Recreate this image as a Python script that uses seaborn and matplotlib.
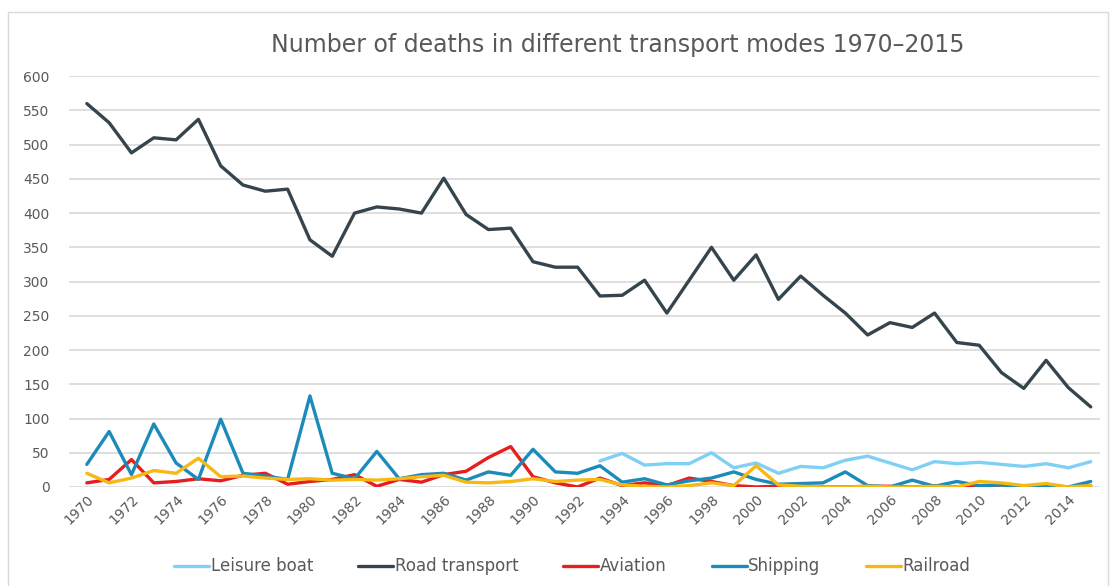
import matplotlib
matplotlib.use("Agg")
import matplotlib.pyplot as plt
import seaborn as sns
import pandas as pd
from matplotlib.patches import Rectangle

years = list(range(1970, 2016))

road_transport = [560, 532, 488, 510, 507, 537, 469, 441, 432, 435,
                  361, 337, 400, 409, 406, 400, 451, 398, 376, 378,
                  329, 321, 321, 279, 280, 302, 254, 302, 350, 302,
                  339, 274, 308, 280, 254, 222, 240, 233, 254, 211,
                  207, 167, 144, 185, 145, 117]

shipping = [33, 81, 18, 92, 35, 11, 99, 20, 16, 11,
            133, 20, 12, 52, 12, 18, 20, 10, 22, 17,
            55, 22, 20, 31, 7, 12, 3, 9, 13, 22,
            11, 4, 5, 6, 22, 2, 0, 10, 1, 8,
            2, 3, 0, 0, 0, 8]

aviation = [6, 11, 40, 6, 8, 12, 9, 17, 20, 4,
            8, 11, 18, 1, 11, 7, 18, 23, 43, 59,
            15, 6, 0, 13, 2, 6, 2, 13, 8, 2,
            0, 1, 0, 0, 0, 1, 1, 0, 2, 0,
            0, 3, 1, 2, 0, 2]

railroad = [20, 6, 13, 24, 20, 42, 15, 16, 13, 11,
            12, 10, 11, 10, 12, 15, 17, 7, 6, 8,
            12, 8, 10, 11, 3, 1, 0, 2, 6, 2,
            31, 3, 1, 0, 0, 1, 0, 0, 1, 0,
            8, 6, 2, 5, 0, 2]

leisure_years = list(range(1993, 2016))
leisure_boat = [38, 49, 32, 34, 34, 50, 28, 35, 20, 30,
                28, 39, 45, 35, 25, 37, 34, 36, 33, 30,
                34, 28, 37]

series_names = ["Leisure boat", "Road transport", "Aviation", "Shipping", "Railroad"]
colors = ["#7fd0f4", "#36444d", "#e61e1e", "#1b8cba", "#f7b813"]

frames = [pd.DataFrame({"Year": leisure_years, "Deaths": leisure_boat, "Mode": "Leisure boat"})]
for name, vals in [("Road transport", road_transport), ("Aviation", aviation),
                   ("Shipping", shipping), ("Railroad", railroad)]:
    frames.append(pd.DataFrame({"Year": years, "Deaths": vals, "Mode": name}))
df = pd.concat(frames, ignore_index=True)

sns.set_theme(style="white")
plt.rcParams["font.family"] = ["DejaVu Sans"]

fig = plt.figure(figsize=(11.13, 5.86), dpi=100)
fig.patches.append(Rectangle((8 / 1113, -0.05), 1100 / 1113, 1 - 12 / 586 + 0.05,
                             transform=fig.transFigure, fill=False,
                             edgecolor="#d9d9d9", linewidth=1.0))
ax = fig.add_axes([0.062, 0.169, 0.926, 0.701])

sns.lineplot(data=df, x="Year", y="Deaths", hue="Mode", hue_order=series_names,
             palette=dict(zip(series_names, colors)), linewidth=2.4, ax=ax,
             legend=True)

ax.set_ylim(0, 600)
ax.set_xlim(1969.2, 2015.4)
ax.set_yticks(range(0, 601, 50))
ax.set_xticks(list(range(1970, 2015, 2)))
ax.tick_params(axis="y", labelsize=10, labelcolor="#595959", length=0, pad=14)
ax.tick_params(axis="x", labelsize=10, labelcolor="#595959", length=0, pad=4)
for lab in ax.get_xticklabels():
    lab.set_rotation(45)
    lab.set_ha("right")
    lab.set_rotation_mode("anchor")
ax.grid(axis="y", color="#d9d9d9", linewidth=1.2)
ax.set_axisbelow(True)
for s in ax.spines.values():
    s.set_visible(False)
ax.set_xlabel("")
ax.set_ylabel("")

handles, labels = ax.get_legend_handles_labels()
ax.legend(handles, labels, loc="upper center", bbox_to_anchor=(0.488, -0.135),
          ncol=5, frameon=False, fontsize=12, handlelength=2.1, handletextpad=0.1,
          columnspacing=2.7, labelcolor="#595959")

fig.text(0.555, 0.923, "Number of deaths in different transport modes 1970\u20132015",
         ha="center", va="center", fontsize=17, color="#595959")

fig.savefig("out.png", dpi=100)
